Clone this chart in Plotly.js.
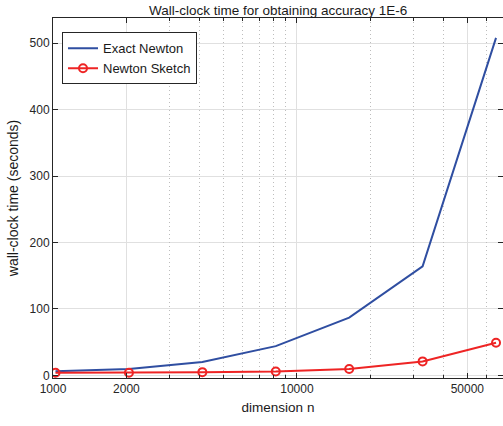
<!DOCTYPE html>
<html>
<head>
<meta charset="utf-8">
<script src="https://cdn.plot.ly/plotly-3.0.1.min.js"></script>
<style>html,body{margin:0;padding:0;background:#fff;}#chart{width:503px;height:426px;}</style>
</head>
<body>
<div id="chart"></div>
<script>
const dimensionN = [1024, 2048, 4096, 8192, 16384, 32768, 65536];
const exactNewton = [6, 9.5, 20, 44, 87, 164, 508];
const newtonSketch = [4, 4, 4.8, 5.8, 9.5, 21, 49];
const xTickVals = [1000, 2000, 10000, 50000];
const xTickText = ['1000', '2000', '10000', '50000'];
const xMinorVals = [3000, 4000, 5000, 6000, 7000, 8000, 9000, 20000, 30000, 40000, 60000, 70000];
const yTickVals = [0, 100, 200, 300, 400, 500];

const fam = 'Liberation Sans, Arial, sans-serif';
const font = {family: fam, size: 12, color: '#262626'};
const xRange = [3, Math.log10(70000)];

const traces = [
  {x: dimensionN, y: exactNewton, name: 'Exact Newton', mode: 'lines',
   line: {color: '#2f4ea1', width: 2}, xaxis: 'x', yaxis: 'y'},
  {x: dimensionN, y: newtonSketch, name: 'Newton Sketch', mode: 'lines+markers',
   line: {color: '#ee2424', width: 2},
   marker: {symbol: 'circle-open', size: 8, color: '#ee2424', line: {width: 2, color: '#ee2424'}},
   xaxis: 'x', yaxis: 'y'},
  {x: dimensionN, y: exactNewton, mode: 'none', showlegend: false, hoverinfo: 'skip',
   xaxis: 'x2', yaxis: 'y'}
];

const layout = {
  width: 503, height: 426,
  margin: {l: 53, r: 0, t: 18, b: 48, pad: 0},
  paper_bgcolor: '#fff', plot_bgcolor: '#fff',
  font: font,
  showlegend: true,
  title: {text: 'Wall-clock time for obtaining accuracy 1E-6', font: {family: fam, size: 13.5, color: '#1a1a1a'},
          x: 0.553, xanchor: 'center', y: 0.975, yanchor: 'middle'},
  xaxis: {
    type: 'log', range: xRange, tickmode: 'array', tickvals: xTickVals, ticktext: xTickText,
    ticks: 'inside', ticklen: 5, tickcolor: '#262626', tickwidth: 1,
    showline: true, linecolor: '#262626', linewidth: 1, mirror: 'ticks',
    showgrid: true, gridcolor: '#e0e0e0', gridwidth: 1, zeroline: false,
    tickfont: font,
    title: {text: 'dimension n', font: {family: fam, size: 13.5, color: '#1a1a1a'}, standoff: 7}
  },
  xaxis2: {
    type: 'log', range: xRange, overlaying: 'x', side: 'bottom', tickmode: 'array', tickvals: xMinorVals,
    ticks: 'inside', ticklen: 3, tickcolor: '#262626', showticklabels: false,
    showline: false, mirror: 'ticks',
    showgrid: true, gridcolor: '#bdbdbd', griddash: '1px,3px', gridwidth: 1, zeroline: false
  },
  yaxis: {
    range: [-4, 538], tickmode: 'array', tickvals: yTickVals,
    ticks: 'inside', ticklen: 5, tickcolor: '#262626',
    showline: true, linecolor: '#262626', linewidth: 1, mirror: 'ticks',
    showgrid: true, gridcolor: '#e0e0e0', zeroline: false,
    tickfont: font,
    title: {text: 'wall-clock time (seconds)', font: {family: fam, size: 14, color: '#1a1a1a'}, standoff: 7}
  },
  legend: {
    x: 0.02, y: 0.96, xanchor: 'left', yanchor: 'top',
    bgcolor: '#fff', bordercolor: '#262626', borderwidth: 1,
    font: {family: fam, size: 13, color: '#1a1a1a'},
    tracegroupgap: 0, itemwidth: 30
  }
};

Plotly.newPlot('chart', traces, layout, {displayModeBar: false, staticPlot: true});
</script>
</body>
</html>
